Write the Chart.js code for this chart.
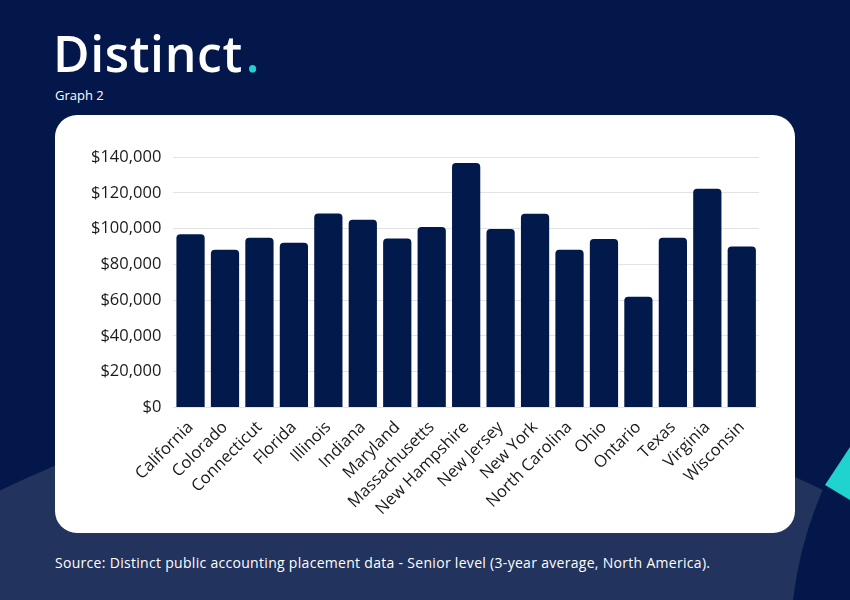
<!DOCTYPE html>
<html>
<head>
<meta charset="utf-8">
<script src="https://cdn.jsdelivr.net/npm/chart.js@4"></script>
<style>
  html, body { margin: 0; padding: 0; }
  body {
    width: 850px; height: 600px; position: relative; overflow: hidden;
    background: #03174a; font-family: "Open Sans", sans-serif;
  }
  #deco { position: absolute; left: 0; top: 0; }
  .logo {
    position: absolute; left: 53px; top: 23px; color: #fff;
    font-size: 50px; font-weight: 600; letter-spacing: 0.6px; line-height: 60px;
  }
  .logo span { color: #1fd3cf; margin-left: 3px; }
  .sub { position: absolute; left: 55px; top: 86px; color: #fff; font-size: 13px; }
  .card {
    position: absolute; left: 55px; top: 115px; width: 740px; height: 418px;
    background: #fff; border-radius: 22px;
  }
  .card canvas { position: absolute; left: 0; top: 0; }
  .source {
    position: absolute; left: 55px; top: 553px; color: #fff; font-size: 14px; letter-spacing: 0.3px;
  }
</style>
</head>
<body>
<svg id="deco" width="850" height="600">
  <circle cx="412" cy="1331" r="936" fill="#22335e"/>
  <path d="M825 485 Q800 540 793 600 L850 600 L850 500 Z" fill="#03174a"/>
  <path d="M825 485 L850 447 L850 500 Z" fill="#1fd3cf"/>
</svg>
<div class="logo">Distinct<span>.</span></div>
<div class="sub">Graph 2</div>
<div class="card"><canvas id="chart" width="740" height="418"></canvas></div>
<div class="source">Source: Distinct public accounting placement data - Senior level (3-year average, North America).</div>

<script>
const regions = ['California', 'Colorado', 'Connecticut', 'Florida', 'Illinois', 'Indiana', 'Maryland',
  'Massachusetts', 'New Hampshire', 'New Jersey', 'New York', 'North Carolina', 'Ohio', 'Ontario',
  'Texas', 'Virginia', 'Wisconsin']
const salaries = [96800, 88200, 94900, 92100, 108500, 105000, 94500,
  100900, 136700, 99800, 108300, 88200, 94200, 61900,
  94900, 122200, 90000]
const yMax = 140000
const yStep = 20000

const ctx = document.getElementById('chart').getContext('2d')
// eslint-disable-next-line no-unused-vars
const chart = new Chart(ctx, {
  type: 'bar',
  data: {
    labels: regions,
    datasets: [{
      data: salaries,
      backgroundColor: '#021a4b',
      borderRadius: { topLeft: 4, topRight: 4 },
      borderSkipped: 'bottom',
      barPercentage: 0.82,
      categoryPercentage: 1
    }]
  },
  options: {
    responsive: false,
    animation: false,
    layout: { padding: { left: 24, right: 36, top: 42, bottom: 12 } },
    plugins: { legend: { display: false }, tooltip: { enabled: false } },
    scales: {
      x: {
        grid: { display: false },
        border: { display: false },
        ticks: {
          color: '#1a1a1a', font: { family: 'Open Sans', size: 16.5 },
          minRotation: 45, maxRotation: 45, autoSkip: false, padding: 2
        }
      },
      y: {
        min: 0, max: yMax,
        grid: { color: '#e3e3e3', drawTicks: false },
        border: { display: false },
        ticks: {
          stepSize: yStep, padding: 12,
          color: '#1a1a1a', font: { family: 'Open Sans', size: 16.5 },
          callback: v => '$' + v.toLocaleString('en-US')
        }
      }
    }
  }
})
</script>
</body>
</html>
